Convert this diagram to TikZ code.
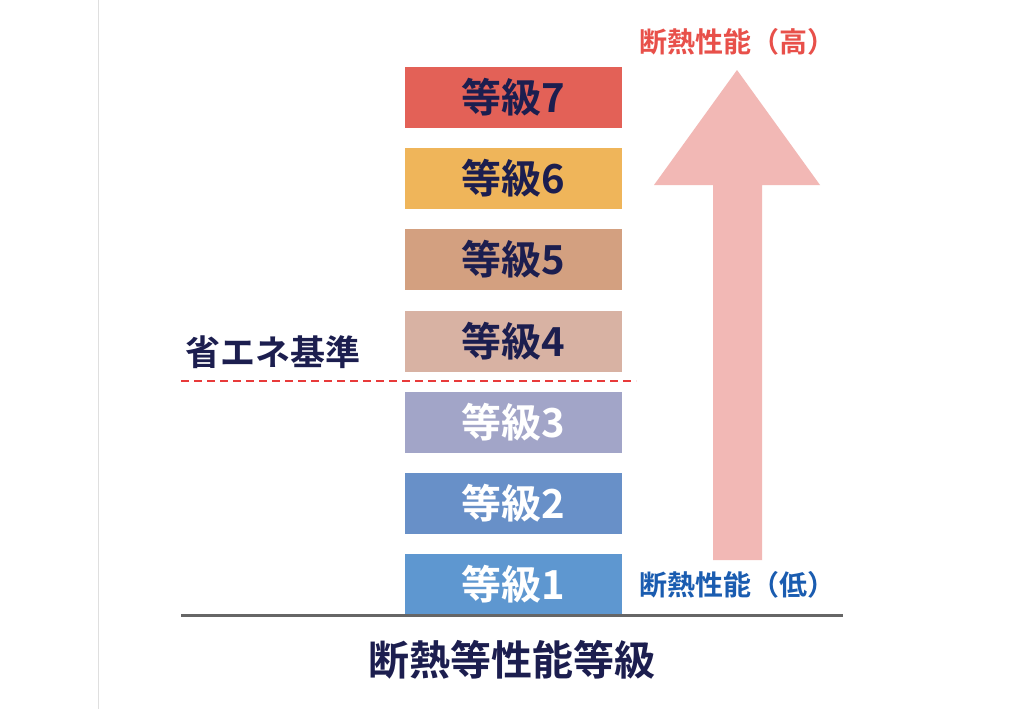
\documentclass[tikz,border=0pt]{standalone}
\usepackage{fontspec}
\newfontfamily\cjk{Noto Sans CJK JP}[BoldFont={Noto Sans CJK JP Bold}]
\definecolor{c7}{HTML}{E36157}\definecolor{c6}{HTML}{EFB55A}\definecolor{c5}{HTML}{D3A080}
\definecolor{c4}{HTML}{D8B2A3}\definecolor{c3}{HTML}{A2A5C8}\definecolor{c2}{HTML}{6890C8}
\definecolor{c1}{HTML}{5E97D0}\definecolor{navy}{HTML}{1C1E4F}\definecolor{arr}{HTML}{F2B8B5}
\definecolor{hi}{HTML}{E8504A}\definecolor{lo}{HTML}{1A5CB0}\definecolor{dashred}{HTML}{E83A3A}
\tikzset{lvl/.style={minimum width=217pt,minimum height=61pt,inner sep=0pt,font=\cjk\bfseries\fontsize{40}{42}\selectfont}}
\begin{document}
\begin{tikzpicture}[x=1pt,y=-1pt]
\useasboundingbox (0,0) rectangle (1024,709);
\fill[white] (0,0) rectangle (1024,709);
\draw[gray!25,line width=1pt] (98,0) -- (98,709);
\foreach \i/\y/\t in {7/97.5/navy,6/178.5/navy,5/259.5/navy,4/341.5/navy,3/422.5/white,2/503.5/white,1/584/white}
  \node[lvl,fill=c\i,text=\t] (g\i) at (513.5,\y) {等級\i};
\fill[arr] (713,560) -- (713,185) -- (654,185) -- (737,70) -- (820,185) -- (762,185) -- (762,560) -- cycle;
\draw[gray!80!black,line width=3pt] (181,615) -- (843,615);
\draw[dashred,line width=2.5pt,dash pattern=on 8pt off 5pt] (181,381) -- (636,381);
\node[font=\cjk\bfseries\fontsize{35}{37}\selectfont,text=navy,anchor=west,inner sep=0pt] (sk) at (185,352) {省エネ基準};
\node[font=\cjk\bfseries\fontsize{41}{43}\selectfont,text=navy] (title) at (512,660) {断熱等性能等級};
\node[font=\cjk\bfseries\fontsize{28}{30}\selectfont,text=hi] (hiL) at (737,42) {断熱性能（高）};
\node[font=\cjk\bfseries\fontsize{28}{30}\selectfont,text=lo] (loL) at (737,585) {断熱性能（低）};
\end{tikzpicture}
\end{document}
